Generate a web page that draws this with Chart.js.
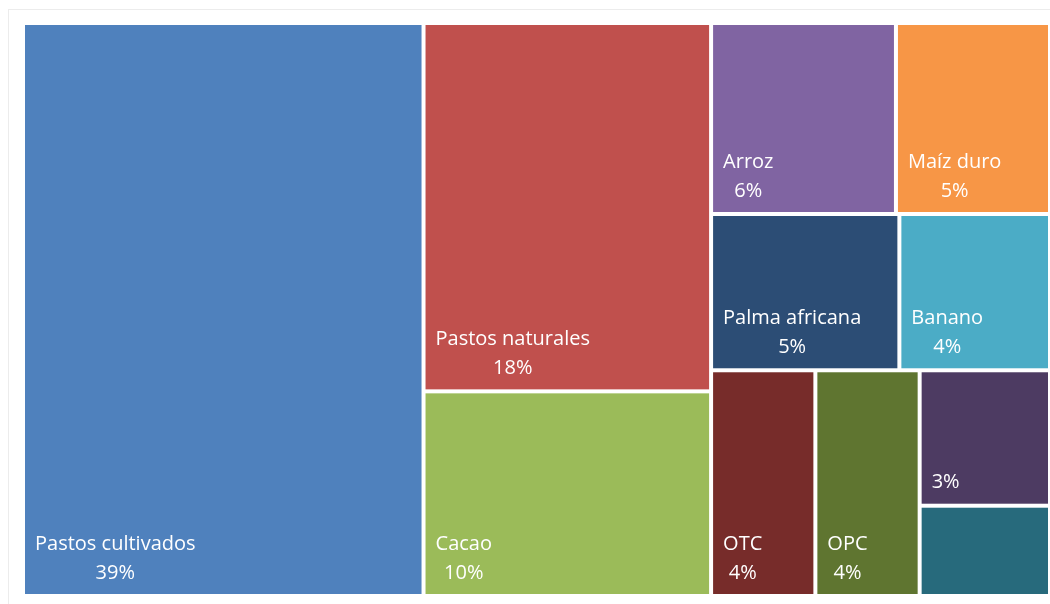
<!DOCTYPE html>
<html>
<head>
<meta charset="utf-8">
<script src="https://cdn.jsdelivr.net/npm/chart.js@4.4.1/dist/chart.umd.min.js"></script>
<style>
  html, body { margin: 0; padding: 0; background: #fff; overflow: hidden; }
  #wrap { position: relative; width: 1050px; height: 604px; }
  #frame { position: absolute; left: 8px; top: 9px; width: 1100px; height: 700px; border: 1px solid #ececec; box-sizing: border-box; }
  canvas { position: absolute; left: 0; top: 0; }
</style>
</head>
<body>
<div id="wrap">
  <div id="frame"></div>
  <canvas id="chart" width="1050" height="604"></canvas>
</div>
<script>
// categories and their share of the total (%)
const categories = ['Pastos cultivados', 'Pastos naturales', 'Cacao', 'Arroz', 'Maíz duro',
  'Palma africana', 'Banano', 'OTC', 'OPC', '', ''];
const shares = [39, 18, 10, 6, 5, 5, 4, 4, 4, 3, 2];
const colors = ['#4F81BD', '#C0504D', '#9BBB59', '#8064A2', '#F79646',
  '#2C4D75', '#4BACC6', '#772C2A', '#5F7530', '#4D3B62', '#276A7C'];
// how the cells are grouped: nested lists, directions alternate (side by side, then stacked)
const grouping = [0, [1, 2], [[3, 4], [5, 6], [7, 8, [9, 10]]]];

function groupSum(g) {
  return Array.isArray(g) ? g.reduce((s, c) => s + groupSum(c), 0) : shares[g];
}

// split a box in value units (0..1) among the children of a group
function layout(g, box, horiz, out) {
  if (!Array.isArray(g)) {
    out[g] = box;
    return out;
  }
  const total = groupSum(g);
  let pos = horiz ? box.x0 : box.y0;
  for (const child of g) {
    const frac = groupSum(child) / total;
    let sub;
    if (horiz) {
      const w = (box.x1 - box.x0) * frac;
      sub = { x0: pos, x1: pos + w, y0: box.y0, y1: box.y1 };
      pos += w;
    } else {
      const h = (box.y1 - box.y0) * frac;
      sub = { x0: box.x0, x1: box.x1, y0: pos, y1: pos + h };
      pos += h;
    }
    layout(child, sub, !horiz, out);
  }
  return out;
}

const cells = layout(grouping, { x0: 0, x1: 1, y0: 0, y1: 1 }, true, []);
const centers = cells.map(c => ({ x: (c.x0 + c.x1) / 2, y: (c.y0 + c.y1) / 2 }));

const treemapPlugin = {
  id: 'treemapCells',
  afterDatasetsDraw(chart) {
    const ctx = chart.ctx;
    const xs = chart.scales.x, ys = chart.scales.y;
    const inset = 2;
    ctx.save();
    cells.forEach((c, i) => {
      const left = xs.getPixelForValue(c.x0) + inset;
      const right = xs.getPixelForValue(c.x1) - inset;
      const top = ys.getPixelForValue(c.y0) + inset;
      const bottom = ys.getPixelForValue(c.y1) - inset;
      ctx.fillStyle = colors[i];
      ctx.fillRect(left, top, right - left, bottom - top);

      ctx.fillStyle = '#fff';
      ctx.font = '20px "Open Sans", sans-serif';
      ctx.textBaseline = 'middle';
      const name = categories[i];
      const pct = shares[i] + '%';
      if (shares[i] < 3) return;
      if (name) {
        const nw = ctx.measureText(name).width;
        ctx.textAlign = 'left';
        ctx.fillText(name, left + 10, bottom - 50);
        ctx.textAlign = 'center';
        ctx.fillText(pct, left + 10 + nw / 2, bottom - 21);
      } else {
        ctx.textAlign = 'left';
        ctx.fillText(pct, left + 10, bottom - 21);
      }
    });
    ctx.restore();
  }
};

new Chart(document.getElementById('chart'), {
  type: 'scatter',
  data: {
    labels: categories,
    datasets: [{
      data: centers,
      pointRadius: 0,
      pointHoverRadius: 0
    }]
  },
  options: {
    responsive: false,
    animation: false,
    layout: { padding: { left: 23, top: 23, right: 0, bottom: 8 } },
    scales: {
      x: { type: 'linear', min: 0, max: 1, display: false },
      y: { type: 'linear', min: 0, max: 1, reverse: true, display: false }
    },
    plugins: {
      legend: { display: false },
      tooltip: { enabled: false }
    }
  },
  plugins: [treemapPlugin]
});
</script>
</body>
</html>
